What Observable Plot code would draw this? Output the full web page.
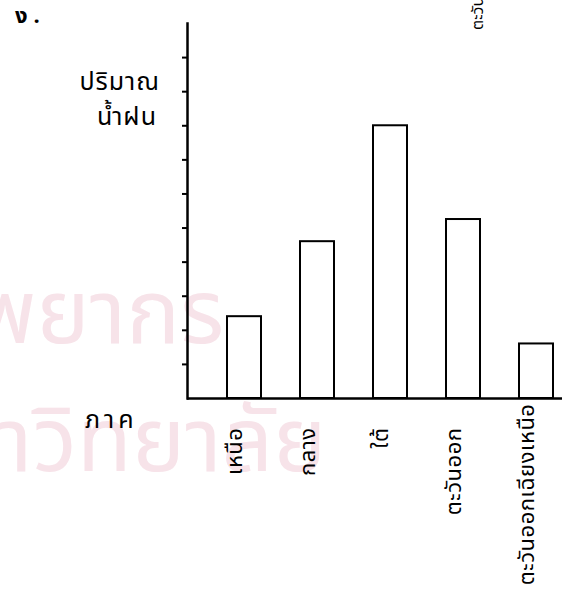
<!DOCTYPE html>
<html>
<head>
<meta charset="utf-8">
<script src="https://cdn.jsdelivr.net/npm/d3@7"></script>
<script src="https://cdn.jsdelivr.net/npm/@observablehq/plot@0.6"></script>
<style>
  html, body { margin: 0; padding: 0; background: #fff; }
  #wrap { position: relative; width: 588px; height: 596px; overflow: hidden; font-family: "Noto Sans Thai", "Noto Sans", "DejaVu Sans", sans-serif; }
  .wm { position: absolute; color: #f7e3e9; font-size: 90px; line-height: 1; white-space: nowrap; font-family: "Noto Sans Thai", "Noto Sans", sans-serif; }
  .lbl { position: absolute; color: #000; white-space: nowrap; line-height: 1; }
  #chart { position: absolute; left: 0; top: 0; }
  #chart text { letter-spacing: 0.5px; }
</style>
</head>
<body>
<div id="wrap">
  <div class="wm" style="left:-125px; top:271px;">ทรัพยากร</div>
  <div class="wm" style="left:-112px; top:399px;">มหาวิทยาลัย</div>
  <div id="chart"></div>
  <div class="lbl" style="left:15px; top:6px; font-size:22px; font-weight:bold; letter-spacing:6px;">ง.</div>
  <div class="lbl" style="right:428px; top:70px; font-size:25px; letter-spacing:1px;">ปริมาณ</div>
  <div class="lbl" style="right:431px; top:105px; font-size:25px; letter-spacing:1px;">น้ำฝน</div>
  <div class="lbl" style="left:85px; top:408px; font-size:25px; letter-spacing:4px;">ภาค</div>
  <div class="lbl" style="left:470px; top:30px; font-size:16px; transform-origin:0 0; transform:rotate(-90deg);">ตะวันออก</div>
</div>
<script>
const regions = ["เหนือ", "กลาง", "ใต้", "ตะวันออก", "ตะวันออกเฉียงเหนือ"];
const rainfall = [2.4, 4.6, 8.0, 5.25, 1.6];
const yTicks = [1, 2, 3, 4, 5, 6, 7, 8, 9, 10];

const data = regions.map((r, i) => ({region: r, rain: rainfall[i]}));
const shortLabels = data.slice(0, 4);
const longLabels = data.slice(4);

const chart = Plot.plot({
  width: 588,
  height: 596,
  marginLeft: 187,
  marginRight: 26,
  marginTop: 23,
  marginBottom: 198,
  style: {background: "transparent", fontFamily: "'Noto Sans Thai', 'Noto Sans', 'DejaVu Sans', sans-serif"},
  x: {domain: regions, paddingInner: 0.54, paddingOuter: 0.304, align: 0.8, axis: null},
  y: {domain: [0, 11], axis: null},
  marks: [
    Plot.barY(data, {x: "region", y: "rain", fill: "white", stroke: "black", strokeWidth: 2}),
    Plot.frame({anchor: "left", stroke: "black", strokeWidth: 2.5}),
    Plot.ruleY([0], {stroke: "black", strokeWidth: 2.5}),
    Plot.axisY({ticks: yTicks, tickSize: 5, tickFormat: () => "", label: null, stroke: "black", strokeWidth: 2}),
    Plot.text(shortLabels, {x: "region", text: "region", frameAnchor: "bottom", rotate: -90, textAnchor: "end", dy: 29, dx: -3, fontSize: 22, fill: "black"}),
    Plot.text(longLabels, {x: "region", text: "region", frameAnchor: "bottom", rotate: -90, textAnchor: "end", dy: 5, dx: -3, fontSize: 22, fill: "black"})
  ]
});
document.getElementById("chart").appendChild(chart);
</script>
</body>
</html>
